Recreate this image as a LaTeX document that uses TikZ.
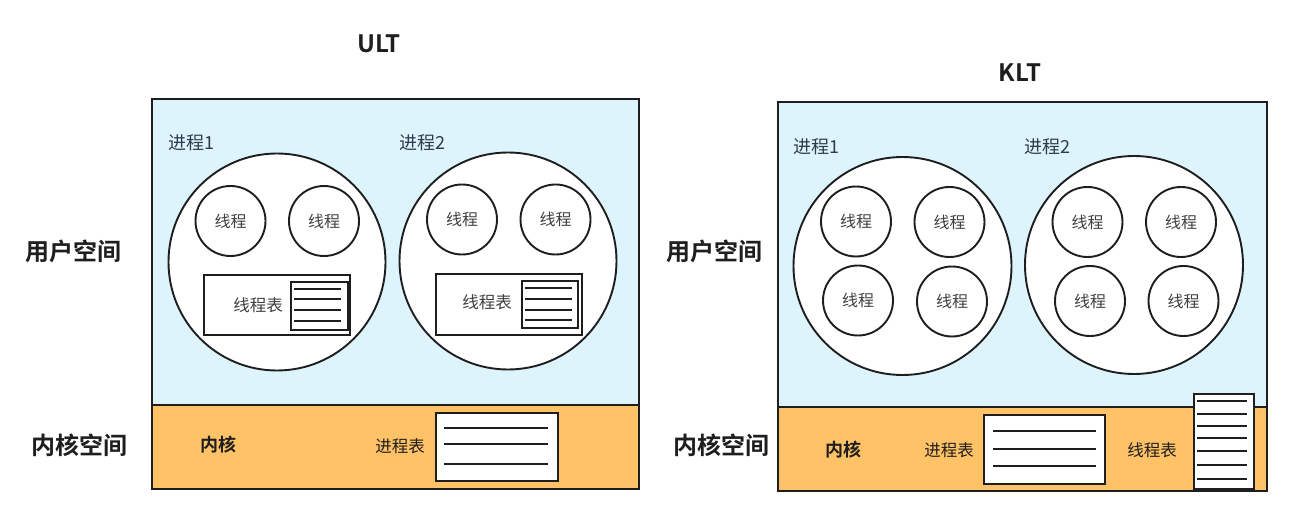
\documentclass[tikz,border=0pt]{standalone}
\usepackage{fontspec}
\setmainfont{Noto Sans CJK SC}[BoldFont={Noto Sans CJK SC Bold}]
\definecolor{userblue}{HTML}{DDF4FD}
\definecolor{kernorange}{HTML}{FFC266}
\definecolor{lbl}{HTML}{2E3B4E}
\definecolor{ink}{HTML}{1E1E1E}
\tikzset{
  region/.style={draw=ink, line width=1.9pt, rectangle, inner sep=0pt, anchor=north west},
  proc/.style={circle, draw=ink, fill=white, line width=1.9pt, minimum size=#1, inner sep=0pt},
  thread/.style={circle, draw=ink, fill=white, line width=1.9pt, minimum size=70pt, inner sep=0pt,
    font=\fontsize{16}{16}\selectfont, text=black!75},
  tbl/.style={draw=ink, fill=white, line width=1.9pt, rectangle, inner sep=0pt, anchor=north west},
  row/.style={draw=ink, line width=1.5pt},
  titletext/.style={font=\bfseries\fontsize{24}{24}\selectfont, text=ink},
  spacetext/.style={font=\bfseries\fontsize{24}{24}\selectfont, text=ink},
  plabel/.style={font=\fontsize{18}{18}\selectfont, text=lbl, anchor=west, inner sep=0pt},
  smalltext/.style={font=\fontsize{16.5}{16.5}\selectfont, text=black!75, inner sep=0pt},
  kerntext/.style={font=\bfseries\fontsize{18}{18}\selectfont, text=ink, inner sep=0pt},
}
\begin{document}
\begin{tikzpicture}[x=1pt,y=-1pt]
\useasboundingbox (0,0) rectangle (1291,529);

% ================= ULT =================
\node[titletext] (ult) at (379,44) {ULT};
\node[spacetext] (ulu) at (73,251) {用户空间};
\node[spacetext] (ulk) at (79,445) {内核空间};

\node[region, fill=userblue, minimum width=487pt, minimum height=306pt] (uu) at (151,98) {};
\node[region, fill=kernorange, minimum width=487pt, minimum height=84pt] (uk) at (151,404) {};

\node[plabel] (up1l) at (168,143) {进程1};
\node[plabel] (up2l) at (399,143) {进程2};

\node[proc=217pt] (up1) at (277,262) {};
\node[proc=217pt] (up2) at (508,261) {};

\node[thread] (ut11) at (230.5,221) {线程};
\node[thread] (ut12) at (324,221) {线程};
\node[thread] (ut21) at (462,219.5) {线程};
\node[thread] (ut22) at (555.5,219.5) {线程};

% thread tables in processes
\node[tbl, minimum width=146pt, minimum height=60pt] (utt1) at (203,274) {};
\node[tbl, minimum width=57pt, minimum height=48pt] (utt1i) at (290,281) {};
\foreach \y in {289,299,310,321} \draw[row] (294,\y) -- (341,\y);
\node[smalltext] (utt1l) at (258,305) {线程表};

\node[tbl, minimum width=146pt, minimum height=61pt] (utt2) at (435,273) {};
\node[tbl, minimum width=56pt, minimum height=47pt] (utt2i) at (521,280) {};
\foreach \y in {288,299,310,320} \draw[row] (525,\y) -- (572,\y);
\node[smalltext] (utt2l) at (487,302) {线程表};

% kernel
\node[kerntext] (ukn) at (218,445) {内核};
\node[smalltext, text=ink] (upt) at (400,446) {进程表};
\node[tbl, minimum width=122pt, minimum height=68pt] (uptb) at (435,412) {};
\foreach \y in {428,444,464} \draw[row] (444,\y) -- (548,\y);

% ================= KLT =================
\node[titletext] (klt) at (1020,73) {KLT};
\node[spacetext] (klu) at (714,251) {用户空间};
\node[spacetext] (klk) at (721,445) {内核空间};

\node[region, fill=userblue, minimum width=489pt, minimum height=305pt] (ku) at (777,101) {};
\node[region, fill=kernorange, minimum width=489pt, minimum height=84pt] (kk) at (777,406) {};

\node[plabel] (kp1l) at (793,147) {进程1};
\node[plabel] (kp2l) at (1024,147) {进程2};

\node[proc=218pt] (kp1) at (902.5,266) {};
\node[proc=218pt] (kp2) at (1134,265) {};

\node[thread] (kt11) at (856,221.5) {线程};
\node[thread] (kt12) at (949.5,222) {线程};
\node[thread] (kt13) at (858,300.5) {线程};
\node[thread] (kt14) at (952,301.5) {线程};
\node[thread] (kt21) at (1087.5,222) {线程};
\node[thread] (kt22) at (1181,222) {线程};
\node[thread] (kt23) at (1090,301) {线程};
\node[thread] (kt24) at (1183.5,301) {线程};

% kernel
\node[kerntext] (kkn) at (843,450) {内核};
\node[smalltext, text=ink] (kpt) at (949,450) {进程表};
\node[tbl, minimum width=121pt, minimum height=69pt] (kptb) at (983,414) {};
\foreach \y in {431,449,466} \draw[row] (993,\y) -- (1096,\y);
\node[smalltext, text=ink] (ktt) at (1152,450) {线程表};
\node[tbl, minimum width=60pt, minimum height=95pt] (kttb) at (1193,393) {};
\foreach \y in {401,414,426,438,451,465,479} \draw[row] (1197,\y) -- (1247,\y);
\end{tikzpicture}
\end{document}
